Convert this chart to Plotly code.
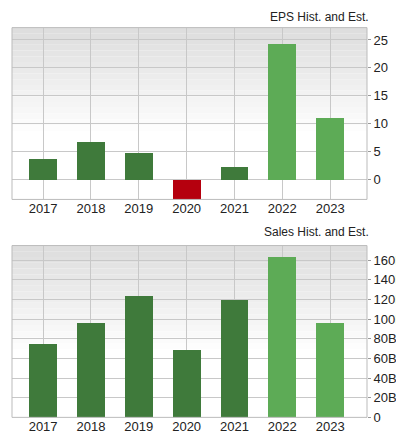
import plotly.graph_objects as go
from plotly.subplots import make_subplots

YEARS = ["2017", "2018", "2019", "2020", "2021", "2022", "2023"]
EPS = [3.8, 6.8, 4.9, -3.6, 2.4, 24.3, 11.1]
SALES = [75, 97, 124, 69, 120, 164, 97]  # billions
ESTIMATE = [False, False, False, False, False, True, True]

DARK = "#3f7a3b"
LIGHT = "#5dab56"
RED = "#b5000e"


def boje(vals):
    out = []
    for v, est in zip(vals, ESTIMATE):
        if v < 0:
            out.append(RED)
        else:
            out.append(LIGHT if est else DARK)
    return out


fig = make_subplots(rows=2, cols=1, vertical_spacing=0.1)
fig.add_trace(go.Bar(x=YEARS, y=EPS, marker=dict(color=boje(EPS), line=dict(width=0)),
                     width=0.58), row=1, col=1)
fig.add_trace(go.Bar(x=YEARS, y=SALES, marker=dict(color=boje(SALES), line=dict(width=0)),
                     width=0.58), row=2, col=1)

dom1 = [1 - 195 / 437, 1 - 20 / 437]
dom2 = [1 - 417 / 437, 1 - 242 / 437]

# gradient background, bands from gray (top) to white
shapes = []
n = 30
for dom, xr, yr in [(dom1, "x domain", "y domain"), (dom2, "x2 domain", "y2 domain")]:
    for i in range(n):
        t = i / n
        c = int(222 + (255 - 222) * min(1, t / 0.6))
        shapes.append(dict(type="rect", xref=xr, yref=yr, x0=0, x1=1,
                           y0=1 - (i + 1) / n, y1=1 - i / n, layer="below",
                           line=dict(width=0), fillcolor=f"rgb({c},{c},{c})"))
    shapes.append(dict(type="rect", xref=xr, yref=yr, x0=0, x1=1, y0=0, y1=1,
                       layer="above", line=dict(color="#bbbbbb", width=1)))

fig.update_layout(
    width=404, height=437, showlegend=False,
    margin=dict(l=4, r=45, t=0, b=0),
    plot_bgcolor="rgba(0,0,0,0)", paper_bgcolor="white",
    font=dict(family="Liberation Sans", size=12, color="#222"),
    shapes=shapes, bargap=0,
    annotations=[
        dict(text="EPS Hist. and Est.", xref="paper", yref="paper", x=1.011, y=1.0,
             xanchor="right", yanchor="top", showarrow=False, font=dict(size=12)),
        dict(text="Sales Hist. and Est.", xref="paper", yref="paper", x=1.011, y=dom2[1] + 0.052,
             xanchor="right", yanchor="top", showarrow=False, font=dict(size=12)),
    ],
)
grid = "#c8c8c8"
fig.update_xaxes(range=[-0.65, 6.77], showgrid=True, gridcolor=grid, ticks="",
                 tickfont=dict(size=13), showline=False, zeroline=False)
fig.update_xaxes(domain=[0, 1])
fig.update_yaxes(side="right", showgrid=True, gridcolor=grid, zeroline=False,
                 ticks="outside", ticklen=3, tickcolor="#999", tickfont=dict(size=13))
fig.update_yaxes(domain=dom1, range=[-3.5, 27.2], tickvals=[0, 5, 10, 15, 20, 25], row=1, col=1)
fig.update_yaxes(domain=dom2, range=[0, 175], tickvals=[0, 20, 40, 60, 80, 100, 120, 140, 160],
                 ticktext=["0", "20B", "40B", "60B", "80B", "100B", "120B", "140B", "160B"],
                 row=2, col=1)

fig.write_html("out.html")
